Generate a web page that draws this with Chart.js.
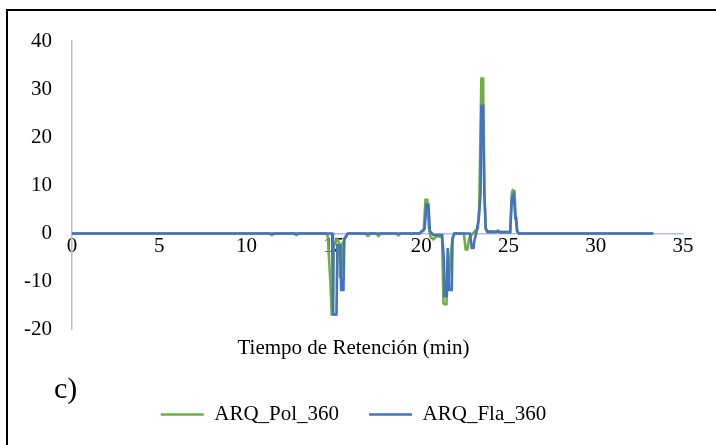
<!DOCTYPE html>
<html>
<head>
<meta charset="utf-8">
<script src="https://cdn.jsdelivr.net/npm/chart.js@4.4.1/dist/chart.umd.min.js"></script>
<style>
  html, body { margin: 0; padding: 0; background: #fff; overflow: hidden; }
  #wrap { position: relative; width: 716px; height: 445px; }
  #frame { position: absolute; left: 6px; top: 9px; width: 800px; height: 600px; border: 2px solid #000; box-sizing: border-box; pointer-events: none; }
  #lbl { position: absolute; left: 54px; top: 371px; font-family: "Liberation Serif", "Times New Roman", serif; font-size: 30px; color: #000; }
  canvas { position: absolute; left: 0; top: 0; }
</style>
</head>
<body>
<div id="wrap">
  <canvas id="c" width="716" height="445"></canvas>
  <div id="frame"></div>
  <div id="lbl">c)</div>
</div>
<script>
// Retention time (min) and signal for each series
const polTimes = [0, 11.3, 11.45, 11.6, 12.7, 12.85, 13.0, 14.55, 14.65, 14.72, 14.8, 14.88, 14.95, 15.0, 15.2, 15.3, 15.35, 15.42, 15.5, 15.8, 16.8, 16.95, 17.1, 17.4, 17.55, 17.7, 18.55, 18.7, 18.85, 19.9, 20.15, 20.25, 20.35, 20.45, 20.55, 20.7, 20.9, 21.2, 21.28, 21.35, 21.45, 21.5, 21.6, 21.7, 21.8, 21.9, 22.45, 22.55, 22.65, 22.75, 22.85, 23.05, 23.25, 23.33, 23.45, 23.55, 23.62, 23.7, 23.8, 24.3, 24.4, 24.5, 25.1, 25.2, 25.25, 25.35, 25.42, 25.5, 25.6, 33.3];
const polValues = [0, 0, -0.3, 0, 0, -0.3, 0, 0, -0.5, -5, -10, -16.8, -16.8, -2, -1.2, -2, -9, -9, -2, 0, 0, -0.5, 0, 0, -0.5, 0, 0, -0.4, 0, 0, 0.6, 7, 7, 1, -0.8, -1.2, -0.5, -0.8, -14.5, -14.7, -14.7, -8, -9, -4, -1, 0, 0, -3.3, -3.3, -1, -0.5, 0.4, 1, 5.5, 32.2, 32.2, 9, 1, 0.5, 0.4, 0.6, 0.3, 0.3, 8.5, 9, 8.8, 3, 0.4, 0, 0];

const flaTimes = [0, 14.9, 14.95, 15.15, 15.2, 15.3, 15.37, 15.42, 15.55, 15.6, 15.8, 19.9, 20.1, 20.2, 20.3, 20.42, 20.5, 20.7, 21.2, 21.3, 21.35, 21.47, 21.52, 21.6, 21.75, 21.8, 21.9, 22.8, 22.9, 23.0, 23.05, 23.15, 23.3, 23.4, 23.45, 23.55, 23.62, 23.7, 23.8, 24.3, 24.4, 24.5, 25.1, 25.2, 25.3, 25.4, 25.45, 25.5, 25.6, 33.3];
const flaValues = [0, 0, -16.8, -16.8, -2.5, -2.5, -2.5, -11.7, -11.7, -1, 0, 0, 0.7, 1, 6, 6, 0.5, -0.3, -0.3, -5, -13, -13, -3, -11.7, -11.7, -1, 0, 0, -3, -3, -1.5, 0, 3, 8, 26.5, 26.5, 8.3, 1, 0.3, 0.3, 0.5, 0.3, 0.3, 7.6, 8.2, 3.2, 3.2, 0.5, 0, 0];

const seriesNames = ['ARQ_Pol_360', 'ARQ_Fla_360'];
const seriesColors = ['#70AD47', '#4472C4'];
const xTicks = [0, 5, 10, 15, 20, 25, 30, 35];
const yTicks = [-20, -10, 0, 10, 20, 30, 40];
const xTitle = 'Tiempo de Retención (min)';

const toPts = (xs, ys) => xs.map((x, i) => ({ x: x, y: ys[i] }));
const FONT = '"Liberation Serif", "Times New Roman", serif';
const axisColor = '#b3c0d6';

new Chart(document.getElementById('c'), {
  type: 'line',
  data: {
    datasets: [
      { label: seriesNames[0], data: toPts(polTimes, polValues), borderColor: seriesColors[0], backgroundColor: seriesColors[0], borderWidth: 2.6, pointRadius: 0, tension: 0, order: 1 },
      { label: seriesNames[1], data: toPts(flaTimes, flaValues), borderColor: seriesColors[1], backgroundColor: seriesColors[1], borderWidth: 2.6, pointRadius: 0, tension: 0, order: 0 }
    ]
  },
  options: {
    responsive: false,
    animation: false,
    layout: { padding: { left: 24, right: 33, top: 41, bottom: 10 } },
    scales: {
      x: {
        type: 'linear',
        position: { y: 0 },
        min: 0, max: 35,
        afterBuildTicks: (s) => { s.ticks = xTicks.map(v => ({ value: v })); },
        grid: { display: false, drawTicks: false },
        border: { display: true, color: axisColor, width: 1.5 },
        ticks: { font: { family: FONT, size: 21 }, color: '#000', padding: 0, maxRotation: 0 }
      },
      y: {
        min: -20, max: 40,
        afterBuildTicks: (s) => { s.ticks = yTicks.map(v => ({ value: v })); },
        afterFit: (s) => { s.width = 48; },
        grid: { display: false, drawTicks: false },
        border: { display: true, color: axisColor, width: 1.5 },
        ticks: { font: { family: FONT, size: 21 }, color: '#000', padding: 20 }
      }
    },
    plugins: {
      title: {
        display: true, text: xTitle, position: 'bottom', weight: 500,
        font: { family: FONT, size: 21, weight: 'normal' }, color: '#000',
        padding: { top: 6, bottom: 13 }
      },
      legend: {
        display: true, position: 'bottom', reverse: true,
        labels: {
          font: { family: FONT, size: 21 }, color: '#000',
          usePointStyle: true, pointStyle: 'line', pointStyleWidth: 43, padding: 30
        }
      },
      tooltip: { enabled: false }
    }
  }
});
</script>
</body>
</html>
